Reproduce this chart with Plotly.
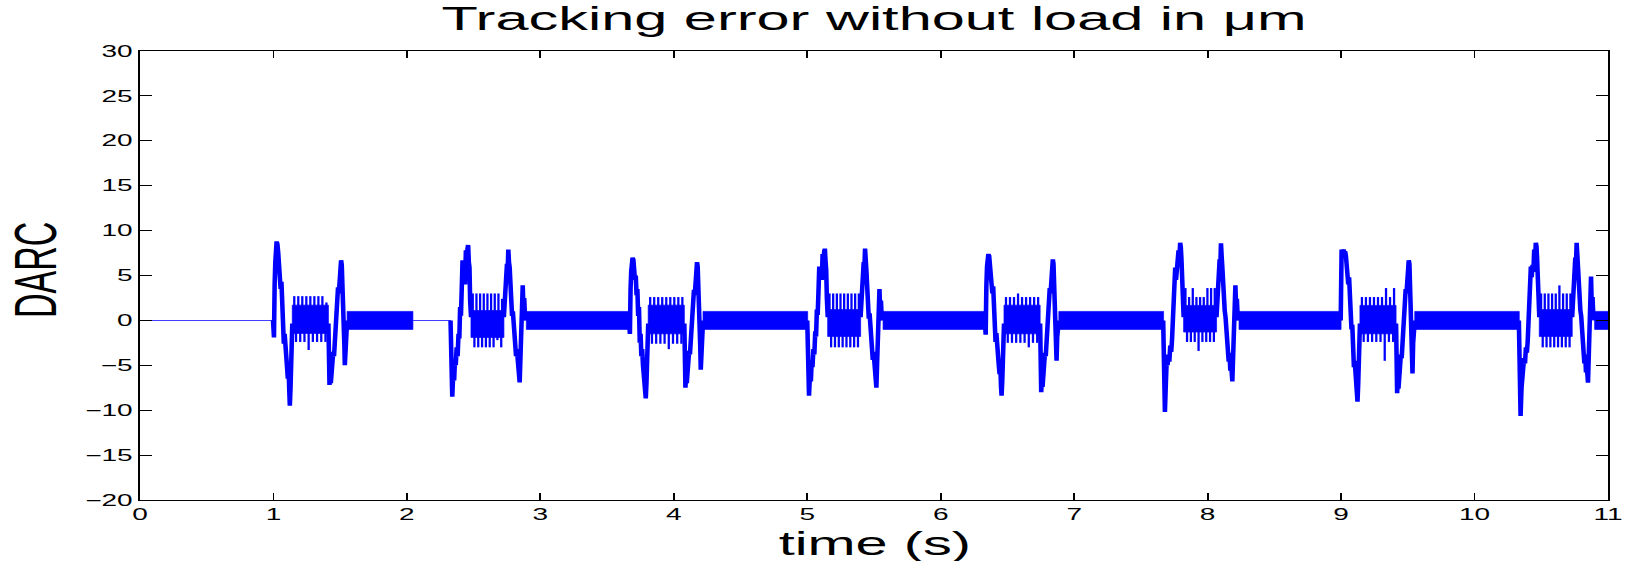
import plotly.graph_objects as go

# ---------------- data (time in s, error in um) ----------------
# flat (zero) stretches of the signal
FLAT_START = [0.0, 2.045]
FLAT_END = [1.0, 2.330]

# steady-state chatter band between transients
QUIET_START = [1.552, 2.895, 4.219, 5.568, 6.885, 8.235, 9.552, 10.900]
QUIET_END = [2.045, 3.667, 5.003, 6.333, 7.670, 9.000, 10.335, 11.000]
QUIET_LO = [-1.0, -1.0, -1.0, -1.0, -1.0, -1.0, -1.0, -1.0]
QUIET_HI = [1.0, 1.0, 1.0, 1.0, 1.0, 1.0, 1.0, 1.0]

# transients starting with a positive swing
ODD_ONSET = [1.000, 3.667, 6.333, 9.000]
ODD_REL = [-0.003, 0.000, 0.004, 0.009, 0.014, 0.019, 0.024, 0.030, 0.036, 0.042,
           0.048, 0.054, 0.060, 0.066, 0.072, 0.078, 0.084, 0.090, 0.096, 0.102,
           0.108, 0.114, 0.119, 0.123, 0.128, 0.133, 0.137, 0.141,
           0.412, 0.416, 0.420, 0.425, 0.430, 0.436, 0.442, 0.448, 0.454, 0.460,
           0.466, 0.472, 0.478, 0.484, 0.490, 0.496, 0.502, 0.507, 0.512, 0.517,
           0.522, 0.527, 0.531, 0.535, 0.540, 0.545, 0.552]
B1_V = [0, 3.7, -1.9, 4.0, 6.5, 8.0, 8.8, 8.5, 7.5, 5.5,
        6.0, 3.5, 4.3, 1.0, 2.0, -2.6, -1.5, -4.0, -3.5, -5.2,
        -6.5, -5.5, -8.0, -9.5, -7.5, -4.5, -2.0, -0.5,
        -0.5, -4.0, -7.2, -6.0, -7.0, -5.0, -6.0, -3.5, -4.0, -2.2,
        -1.5, 0.5, 1.5, 3.7, 3.0, 5.0, 5.8, 6.7, 6.2, 4.5,
        2.6, 1.0, -2.5, -5.0, -2.0, -0.7, 0.0]
B3_V = [0, 3.0, -1.5, 3.5, 5.5, 6.6, 7.0, 6.8, 6.0, 4.5,
        5.0, 2.8, 3.5, 0.5, 1.5, -2.5, -1.5, -4.0, -3.2, -5.0,
        -6.2, -5.5, -7.6, -8.7, -7.0, -4.2, -2.0, -0.5,
        -0.5, -4.2, -7.5, -6.2, -7.0, -5.0, -5.8, -3.4, -3.8, -2.0,
        -1.4, 0.5, 1.5, 3.4, 2.8, 4.7, 5.5, 6.5, 6.0, 4.2,
        2.5, 0.8, -2.8, -5.5, -2.2, -0.7, 0.0]
B5_V = [0, 3.2, -1.6, 3.8, 6.0, 7.0, 7.4, 7.2, 6.3, 4.8,
        5.2, 3.0, 3.8, 0.8, 1.6, -2.4, -1.4, -3.8, -3.2, -5.0,
        -6.0, -5.2, -7.4, -8.4, -6.8, -4.0, -1.8, -0.5,
        -0.5, -4.5, -8.0, -6.5, -7.4, -5.2, -6.0, -3.6, -4.0, -2.2,
        -1.5, 0.5, 1.6, 3.6, 3.0, 5.0, 5.9, 6.8, 6.3, 4.4,
        2.4, 0.8, -2.2, -4.5, -1.8, -0.6, 0.0]
B7_V = [0, 6.5, 7.9, 7.8, 7.6, 7.9, 7.5, 7.7, 7.2, 6.0,
        5.5, 4.0, 4.8, 2.0, 2.5, -1.0, -0.5, -3.5, -5.2, -4.5,
        -6.5, -6.0, -8.0, -9.05, -7.2, -4.5, -2.0, -0.5,
        -0.5, -4.5, -8.1, -6.5, -7.6, -5.5, -6.2, -3.8, -4.2, -2.4,
        -1.6, 0.4, 1.4, 3.5, 3.0, 5.0, 5.8, 6.7, 6.3, 4.2,
        1.5, -1.5, -4.0, -5.9, -2.5, -0.8, 0.0]

# transients starting with a negative swing
EVEN_ONSET = [2.330, 5.003, 7.670, 10.335]
EVEN_REL = [-0.003, 0.002, 0.010, 0.017, 0.024, 0.030, 0.036, 0.043, 0.050, 0.057,
            0.063, 0.069, 0.075, 0.081, 0.087, 0.093, 0.100, 0.106, 0.112, 0.118,
            0.124, 0.129, 0.134, 0.139, 0.144, 0.150,
            0.397, 0.402, 0.408, 0.414, 0.420, 0.425, 0.430, 0.435, 0.440, 0.446,
            0.452, 0.458, 0.464, 0.470, 0.476, 0.482, 0.488, 0.494, 0.500, 0.507,
            0.515, 0.521, 0.527, 0.532, 0.538, 0.543, 0.549, 0.555, 0.565]
B2_V = [0, -3.7, -8.5, -6.0, -6.7, -4.5, -5.0, -3.0, -4.0, -1.5,
        -2.0, 1.5, 0.5, 3.5, 6.7, 4.5, 5.2, 4.0, 7.8, 6.5,
        8.0, 8.4, 6.5, 5.9, 2.2, 0.5,
        0.5, 2.2, 4.1, 3.2, 6.3, 5.5, 7.9, 6.5, 5.9, 2.6,
        3.4, 0.5, 1.0, -0.7, -2.6, -1.8, -4.0, -3.2, -4.5, -5.5,
        -6.9, -4.1, -1.0, 2.2, 3.9, 1.5, 2.5, 0.4, 0.0]
B4_V = [0, -3.5, -8.4, -6.2, -6.8, -4.6, -5.2, -3.2, -3.8, -1.2,
        -1.8, 1.2, 0.6, 3.2, 6.0, 4.6, 5.5, 4.5, 7.4, 6.4,
        7.7, 8.0, 6.6, 5.6, 2.4, 0.5,
        0.5, 2.5, 4.4, 3.6, 6.5, 5.8, 8.0, 6.8, 5.6, 2.8,
        3.2, 0.2, 0.8, -1.0, -2.8, -2.0, -4.4, -3.5, -5.0, -6.0,
        -7.5, -4.5, -1.2, 2.0, 3.5, 1.2, 2.2, 0.3, 0.0]
B6_V = [0, -4.5, -10.2, -7.0, -4.2, -5.0, -3.8, -4.6, -2.8, -3.5,
        -2.2, -0.5, 1.0, 2.8, 5.9, 4.5, 6.0, 5.2, 7.8, 6.6,
        8.65, 8.2, 6.8, 5.0, 2.4, 0.5,
        0.5, 2.6, 4.6, 3.8, 6.8, 6.0, 8.6, 7.2, 6.0, 2.8,
        3.0, 1.1, 0.4, -1.2, -2.8, -2.0, -4.6, -3.6, -5.6, -5.0,
        -6.8, -4.0, -0.8, 2.4, 3.9, 1.6, 2.4, 0.4, 0.0]
B8_V = [0, -5.0, -10.65, -7.5, -5.2, -5.8, -4.2, -4.8, -3.0, -3.6,
        -2.4, -0.8, 1.2, 3.0, 6.0, 4.8, 6.2, 5.4, 7.9, 6.8,
        8.65, 8.3, 6.8, 5.2, 2.6, 0.5,
        0.5, 2.8, 4.8, 4.0, 7.0, 6.2, 8.65, 7.3, 6.0, 2.9,
        3.2, 1.1, 0.5, -1.2, -3.0, -2.2, -4.8, -3.8, -5.8, -5.2,
        -6.95, -4.2, -0.6, 3.0, 4.9, 1.8, 2.6, 0.5, 0.0]

# switching chatter inside each transient (b1..b8 in time order)
CH_START = [1.141, 2.480, 3.808, 5.153, 6.474, 7.820, 9.141, 10.485]
CH_END = [1.412, 2.727, 4.079, 5.400, 6.745, 8.067, 9.412, 10.732]
CH_LO = [-1.45, -1.9, -1.5, -1.8, -1.5, -1.3, -1.5, -1.8]
CH_HI = [1.7, 1.1, 1.7, 1.2, 1.7, 1.67, 1.67, 1.2]
CH_UP = [
    [2.7, 2.7, 2.7, 2.7, 2.7, 2.7, 2.7, 2.7, 2.0],
    [3.0, 3.0, 3.0, 3.0, 3.0, 3.0, 3.0, 3.0, 2.4],
    [2.6, 2.6, 2.6, 2.6, 2.6, 2.6, 2.6, 2.6, 2.6],
    [3.0, 3.0, 3.0, 3.0, 3.0, 3.0, 3.0, 3.0, 3.0],
    [2.6, 2.6, 2.6, 3.0, 2.6, 2.6, 2.6, 2.6, 2.6],
    [3.6, 2.6, 3.6, 2.6, 2.6, 2.6, 3.6, 3.6, 3.6],
    [2.6, 2.6, 2.6, 2.6, 2.6, 2.6, 3.6, 2.6, 3.6],
    [3.0, 3.0, 3.0, 3.0, 3.0, 3.9, 3.0, 3.0, 3.0],
]
CH_DN = [
    [-2.4, -2.4, -2.4, -3.3, -2.4, -2.4, -2.4, -2.4],
    [-3.0, -3.0, -3.0, -3.0, -3.0, -3.0, -2.2, -3.0],
    [-2.6, -2.6, -2.6, -2.6, -3.2, -2.6, -2.6, -2.6],
    [-3.0, -3.0, -3.0, -3.0, -3.0, -3.0, -3.0, -3.0],
    [-2.5, -2.5, -2.5, -2.5, -2.5, -3.0, -2.5, -2.5],
    [-2.4, -2.4, -2.4, -3.4, -2.4, -2.4, -2.4, -2.4],
    [-2.4, -2.4, -2.4, -2.4, -2.4, -4.5, -2.4, -2.4],
    [-3.0, -3.0, -3.0, -3.0, -3.0, -3.0, -3.0, -3.0],
]

X_TICKS = list(range(0, 12))
Y_TICKS = list(range(-20, 31, 5))

# ---------------- drawing ----------------
BLUE = "#0000FF"
STRETCH = 1643 / 939      # page is widened horizontally after rendering
FONT = "Liberation Sans, Arial, Helvetica, sans-serif"

fig = go.Figure()

# flat parts of the signal
fx, fy = [], []
for s, e in zip(FLAT_START, FLAT_END):
    fx += [s, e, None]
    fy += [0, 0, None]
fig.add_trace(go.Scatter(x=fx, y=fy, mode="lines",
                         line=dict(color=BLUE, width=0.8), hoverinfo="skip"))

# chatter bands (steady state)
qx, qy = [], []
for s, e, lo, hi in zip(QUIET_START, QUIET_END, QUIET_LO, QUIET_HI):
    qx += [s, e, e, s, s, None]
    qy += [lo, lo, hi, hi, lo, None]
fig.add_trace(go.Scatter(x=qx, y=qy, mode="lines", fill="toself",
                         fillcolor=BLUE, line=dict(color=BLUE, width=0.5),
                         hoverinfo="skip"))

# chatter bands inside transients, with their switching spikes
cx, cy = [], []
sx, sy = [], []
for s, e, lo, hi, ups, dns in zip(CH_START, CH_END, CH_LO, CH_HI, CH_UP, CH_DN):
    cx += [s, e, e, s, s, None]
    cy += [lo, lo, hi, hi, lo, None]
    span = e - s
    for i, v in enumerate(ups):
        t = s + span * (i + 0.5) / len(ups)
        sx += [t, t, None]
        sy += [0, v, None]
    for i, v in enumerate(dns):
        t = s + span * (i + 0.9) / (len(dns) + 0.6)
        sx += [t, t, None]
        sy += [0, v, None]
fig.add_trace(go.Scatter(x=cx, y=cy, mode="lines", fill="toself",
                         fillcolor=BLUE, line=dict(color=BLUE, width=0.5),
                         hoverinfo="skip"))
fig.add_trace(go.Scatter(x=sx, y=sy, mode="lines",
                         line=dict(color=BLUE, width=1.3), hoverinfo="skip"))

# large transient excursions
bx, by = [], []
for onset, vals in zip(ODD_ONSET, [B1_V, B3_V, B5_V, B7_V]):
    assert len(vals) == len(ODD_REL)
    bx += [onset + r for r in ODD_REL] + [None]
    by += vals + [None]
for onset, vals in zip(EVEN_ONSET, [B2_V, B4_V, B6_V, B8_V]):
    assert len(vals) == len(EVEN_REL)
    bx += [onset + r for r in EVEN_REL] + [None]
    by += vals + [None]
fig.add_trace(go.Scatter(x=bx, y=by, mode="lines",
                         line=dict(color=BLUE, width=2.6), hoverinfo="skip"))

axis_common = dict(
    showgrid=False, zeroline=False, showline=True, mirror="ticks",
    linecolor="black", linewidth=1, ticks="inside", ticklen=7,
    tickwidth=1, tickcolor="black",
    tickfont=dict(family=FONT, size=16, color="black"),
    fixedrange=True,
)

fig.update_layout(
    width=939, height=561,
    margin=dict(l=80, r=14, t=51, b=61),
    paper_bgcolor="white", plot_bgcolor="white",
    showlegend=False,
    title=dict(text="Tracking error without load in μm",
               font=dict(family=FONT, size=34, color="black"),
               x=0.5, xref="paper", xanchor="center",
               y=1 - 18 / 561, yref="container", yanchor="middle"),
    xaxis=dict(range=[0, 11], tickmode="array", tickvals=X_TICKS, **axis_common),
    yaxis=dict(range=[-20, 30], tickmode="array", tickvals=Y_TICKS, **axis_common),
    annotations=[
        dict(text="DARC", textangle=-90, showarrow=False,
             xref="paper", yref="paper", x=-0.0717, y=0.512,
             xanchor="center", yanchor="middle",
             font=dict(family=FONT, size=34, color="black")),
        dict(text="time (s)", showarrow=False,
             xref="paper", yref="paper", x=0.5, y=-0.096,
             xanchor="center", yanchor="middle",
             font=dict(family=FONT, size=33, color="black")),
    ],
)

post = f"""
var gd = document.getElementById('{{plot_id}}');
document.documentElement.style.margin = '0';
document.body.style.margin = '0';
document.body.style.overflow = 'hidden';
gd.style.transformOrigin = '0 0';
gd.style.transform = 'scaleX({STRETCH:.5f})';
"""

fig.write_html("out.html", config={"displayModeBar": False},
               default_width="939px", default_height="561px",
               post_script=post)
